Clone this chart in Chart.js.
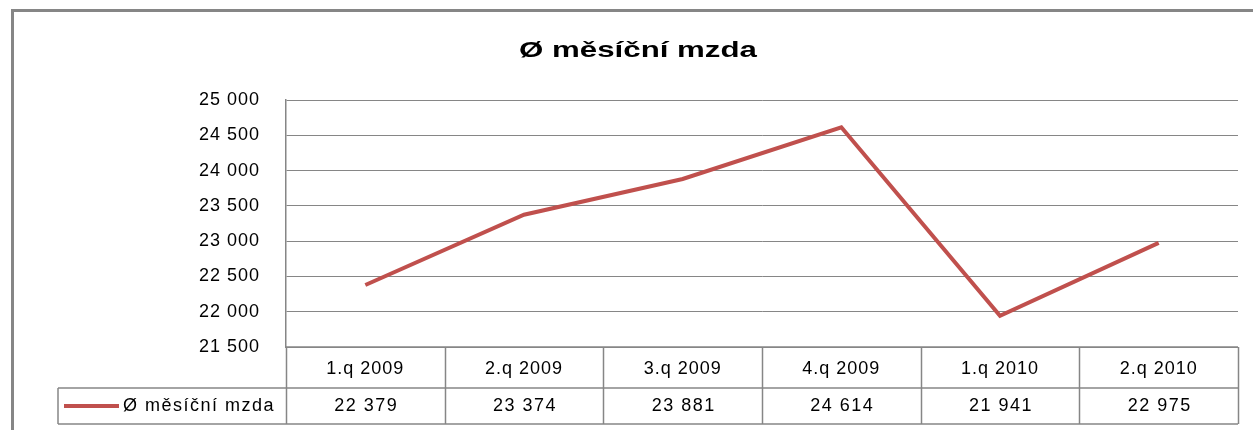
<!DOCTYPE html>
<html>
<head>
<meta charset="utf-8">
<script src="https://cdn.jsdelivr.net/npm/chart.js@4"></script>
<style>
  html, body { margin: 0; padding: 0; background: #fff; }
  #wrap { width: 1253px; height: 430px; }
</style>
</head>
<body>
<div id="wrap"><canvas id="wageChart" width="1253" height="430"></canvas></div>
<script>
// Data
const chartTitle = 'Ø měsíční mzda';
const quarters = ['1.q 2009', '2.q 2009', '3.q 2009', '4.q 2009', '1.q 2010', '2.q 2010'];
const avgWage = [22379, 23374, 23881, 24614, 21941, 22975];
const yTicks = { min: 21500, max: 25000, step: 500 };

const GRAY = '#868686';
const RED = '#C0504D';
const FONT = "'Liberation Sans', Arial, sans-serif";
const TICK_SPACING = '1px';

function fmt(v) {
    return String(v).replace(/\B(?=(\d{3})+(?!\d))/g, ' ');
}

// slightly wider letter spacing, like the GDI-rendered original
const spacingPlugin = {
    id: 'spacing',
    beforeLayout(chart) { chart.ctx.letterSpacing = TICK_SPACING; },
    beforeDraw(chart) { chart.ctx.letterSpacing = TICK_SPACING; }
};

// Title, frame and Excel-like data table under the plot
const dataTablePlugin = {
    id: 'dataTable',
    afterDraw(chart) {
        const ctx = chart.ctx;
        const area = chart.chartArea;
        const xs = chart.scales.x;
        const colW = xs.getPixelForValue(1) - xs.getPixelForValue(0);
        const row1 = area.bottom + 41;
        const row2 = row1 + 36;
        const legendLeft = 58;

        ctx.save();
        // outer frame
        ctx.strokeStyle = GRAY;
        ctx.lineWidth = 3;
        ctx.strokeRect(12.5, 10.5, 1400, 600);

        // title (stretched horizontally like the original)
        ctx.save();
        ctx.fillStyle = '#000';
        ctx.font = 'bold 22px ' + FONT;
        ctx.letterSpacing = '0px';
        ctx.textAlign = 'center';
        ctx.textBaseline = 'alphabetic';
        ctx.translate(638, 57);
        ctx.scale(1.42, 1);
        ctx.fillText(chartTitle, 0, 0);
        ctx.restore();

        // table grid
        ctx.lineWidth = 1.5;
        ctx.beginPath();
        ctx.moveTo(area.left, area.bottom); ctx.lineTo(area.right, area.bottom);
        ctx.moveTo(legendLeft, row1); ctx.lineTo(area.right, row1);
        ctx.moveTo(legendLeft, row2); ctx.lineTo(area.right, row2);
        ctx.moveTo(legendLeft, row1); ctx.lineTo(legendLeft, row2);
        for (let i = 0; i <= quarters.length; i++) {
            const x = Math.round(xs.getPixelForValue(i) - colW / 2) + 0.5;
            ctx.moveTo(x, area.bottom); ctx.lineTo(x, row2);
        }
        ctx.stroke();

        // values row
        ctx.fillStyle = '#000';
        ctx.font = '18px ' + FONT;
        ctx.letterSpacing = '1.5px';
        ctx.textAlign = 'center';
        ctx.textBaseline = 'middle';
        const ds = chart.data.datasets[0];
        ds.data.forEach((v, i) => {
            ctx.fillText(fmt(v), xs.getPixelForValue(i) + 1, (row1 + row2) / 2);
        });

        // legend key
        const ly = (row1 + row2) / 2;
        ctx.strokeStyle = RED;
        ctx.lineWidth = 4;
        ctx.beginPath();
        ctx.moveTo(64, ly); ctx.lineTo(119, ly);
        ctx.stroke();
        ctx.textAlign = 'left';
        ctx.letterSpacing = '1.5px';
        ctx.fillText(ds.label, 123, ly);
        ctx.restore();
    }
};

const ctx = document.getElementById('wageChart').getContext('2d');
const wageChart = new Chart(ctx, {
    type: 'line',
    data: {
        labels: quarters,
        datasets: [{
            label: chartTitle,
            data: avgWage,
            borderColor: RED,
            backgroundColor: RED,
            borderWidth: 4,
            pointRadius: 0,
            tension: 0,
            fill: false
        }]
    },
    options: {
        responsive: false,
        animation: false,
        layout: { padding: { left: 0, right: 15, top: 100, bottom: 6 } },
        plugins: {
            legend: { display: false },
            tooltip: { enabled: false },
            title: { display: false }
        },
        scales: {
            x: {
                offset: true,
                grid: { display: false, drawTicks: false },
                border: { display: false },
                ticks: { color: '#000', font: { family: FONT, size: 18 }, padding: 11, maxRotation: 0 },
                afterFit: scale => { scale.height = 77; }
            },
            y: {
                min: yTicks.min,
                max: yTicks.max,
                grid: { color: GRAY, lineWidth: 1, drawTicks: false },
                border: { display: true, color: GRAY, width: 1.5 },
                ticks: {
                    stepSize: yTicks.step,
                    color: '#000',
                    font: { family: FONT, size: 18 },
                    padding: 26,
                    callback: v => fmt(v)
                },
                afterFit: scale => { scale.width = 286; }
            }
        }
    },
    plugins: [spacingPlugin, dataTablePlugin]
});
</script>
</body>
</html>
